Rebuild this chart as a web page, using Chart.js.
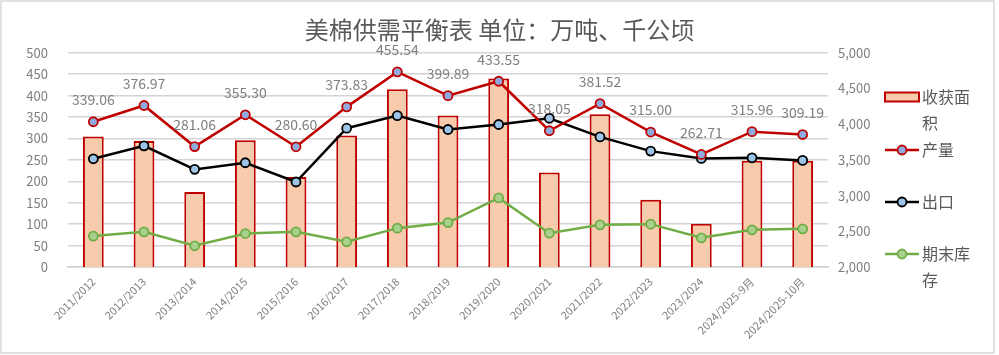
<!DOCTYPE html>
<html><head><meta charset="utf-8">
<script src="https://cdn.jsdelivr.net/npm/chart.js@4.4.0/dist/chart.umd.min.js"></script>
<style>html,body{margin:0;padding:0;background:#fff;overflow:hidden}#wrap{width:999px;height:355px;position:relative}</style>
</head><body><div id="wrap"><canvas id="c" width="999" height="355"></canvas></div>
<script>
const categories = ["2011/2012","2012/2013","2013/2014","2014/2015","2015/2016","2016/2017","2017/2018","2018/2019","2019/2020","2020/2021","2021/2022","2022/2023","2023/2024","2024/2025-9月","2024/2025-10月"];
const harvestArea = [3828, 3766, 3051, 3776, 3260, 3842, 4488, 4121, 4641, 3325, 4139, 2943, 2604, 3488, 3488];
const production = [339.06, 376.97, 281.06, 355.30, 280.60, 373.83, 455.54, 399.89, 433.55, 318.05, 381.52, 315.00, 262.71, 315.96, 309.19];
const exportsData = [252.6, 282.8, 227.9, 243.3, 198.4, 324.0, 353.5, 321.0, 332.6, 347.2, 303.7, 270.5, 253.5, 254.9, 248.8];
const endingStocks = [72.1, 82.1, 49.5, 78.1, 82.1, 58.8, 90.7, 103.7, 161.2, 79.0, 98.4, 100.0, 68.1, 86.7, 89.0];
const seriesNames = ["收获面积", "产量", "出口", "期末库存"];
const legendLines = [["收获面","积"], ["产量"], ["出口"], ["期末库","存"]];
const titleText = "美棉供需平衡表 单位：万吨、千公顷";

const FONT = '"Noto Sans CJK SC", "Noto Sans", sans-serif';

const framePlugin = {
  id: 'frame',
  beforeDraw(chart) {
    const ctx = chart.ctx;
    ctx.save();
    ctx.fillStyle = '#ffffff';
    ctx.fillRect(0, 0, chart.width, chart.height);
    ctx.strokeStyle = '#d9d9d9';
    ctx.lineWidth = 1.5;
    ctx.strokeRect(1, 1, 993, 352);
    ctx.restore();
  }
};

const valueLabelPlugin = {
  id: 'valueLabels',
  afterDatasetsDraw(chart) {
    const meta = chart.getDatasetMeta(1);
    const ctx = chart.ctx;
    ctx.save();
    ctx.font = '14px ' + FONT;
    ctx.fillStyle = '#7f7f7f';
    ctx.textAlign = 'center';
    ctx.textBaseline = 'middle';
    meta.data.forEach((el, i) => {
      ctx.fillText(production[i].toFixed(2), el.x, el.y - 22);
    });
    ctx.restore();
  }
};

const legendPlugin = {
  id: 'customLegend',
  afterDraw(chart) {
    const ctx = chart.ctx;
    const ds = chart.data.datasets;
    const x0 = chart.chartArea.right + 57;
    const tx = x0 + 37;
    const ys = [97, 150, 202, 254];
    ctx.save();
    ctx.font = '16px ' + FONT;
    ctx.textBaseline = 'middle';
    ctx.textAlign = 'left';
    ds.forEach((d, i) => {
      const y = ys[i];
      if (i === 0) {
        ctx.fillStyle = d.backgroundColor;
        ctx.fillRect(x0, y - 4.5, 34, 9);
        ctx.strokeStyle = d.borderColor;
        ctx.lineWidth = 2;
        ctx.strokeRect(x0, y - 4.5, 34, 9);
      } else {
        ctx.strokeStyle = d.borderColor;
        ctx.lineWidth = 2.5;
        ctx.beginPath(); ctx.moveTo(x0, y); ctx.lineTo(x0 + 34, y); ctx.stroke();
        ctx.beginPath(); ctx.arc(x0 + 17, y, 4.5, 0, Math.PI * 2);
        ctx.fillStyle = d.pointBackgroundColor; ctx.fill();
        ctx.strokeStyle = d.pointBorderColor; ctx.lineWidth = 1.8; ctx.stroke();
      }
      ctx.fillStyle = '#595959';
      legendLines[i].forEach((t, k) => ctx.fillText(t, tx, y + k * 26));
    });
    ctx.restore();
  }
};

new Chart(document.getElementById('c'), {
  data: {
    labels: categories,
    datasets: [
      { type: 'bar', label: seriesNames[0], data: harvestArea, yAxisID: 'y2', order: 2,
        backgroundColor: '#F8CBAD', borderColor: '#C00000', borderWidth: 2,
        barPercentage: 0.41, categoryPercentage: 1.0, borderSkipped: false },
      { type: 'line', label: seriesNames[1], data: production, yAxisID: 'y', order: 0,
        borderColor: '#C00000', borderWidth: 2.5, pointRadius: 4.5, pointBorderWidth: 1.8,
        pointBackgroundColor: '#8FAADC', pointBorderColor: '#C00000', tension: 0 },
      { type: 'line', label: seriesNames[2], data: exportsData, yAxisID: 'y', order: 1,
        borderColor: '#000000', borderWidth: 2.5, pointRadius: 4.5, pointBorderWidth: 1.8,
        pointBackgroundColor: '#9DC3E6', pointBorderColor: '#000000', tension: 0 },
      { type: 'line', label: seriesNames[3], data: endingStocks, yAxisID: 'y', order: 1,
        borderColor: '#70AD47', borderWidth: 2.5, pointRadius: 4.5, pointBorderWidth: 1.8,
        pointBackgroundColor: '#A9D18E', pointBorderColor: '#70AD47', tension: 0 }
    ]
  },
  options: {
    responsive: false,
    animation: false,
    layout: { padding: { left: 0, right: 0, top: 0, bottom: 0 } },
    plugins: {
      legend: { display: false },
      tooltip: { enabled: false },
      title: { display: true, text: titleText, color: '#595959',
        font: { family: FONT, size: 24, weight: 'normal' }, padding: { top: 15, bottom: 9 } }
    },
    scales: {
      x: {
        grid: { display: false, drawTicks: false },
        border: { color: '#d0d0d0', width: 1.5 },
        ticks: { color: '#7f7f7f', font: { family: FONT, size: 11 }, maxRotation: 45, minRotation: 45, padding: 8, autoSkip: false },
        afterFit(s) { s.height = 88; }
      },
      y: {
        position: 'left', min: 0, max: 500,
        grid: { color: '#d4d4d4', lineWidth: 1.5, drawTicks: false },
        border: { display: false },
        ticks: { stepSize: 50, color: '#7f7f7f', font: { family: FONT, size: 13 }, padding: 20 },
        afterFit(s) { s.width = 68; }
      },
      y2: {
        position: 'right', min: 2000, max: 5000,
        grid: { display: false, drawTicks: false },
        border: { display: false },
        ticks: { stepSize: 500, color: '#7f7f7f', font: { family: FONT, size: 13 }, padding: 10,
          callback: v => v.toLocaleString('en-US') },
        afterFit(s) { s.width = 171; }
      }
    }
  },
  plugins: [framePlugin, valueLabelPlugin, legendPlugin]
});
</script></body></html>
